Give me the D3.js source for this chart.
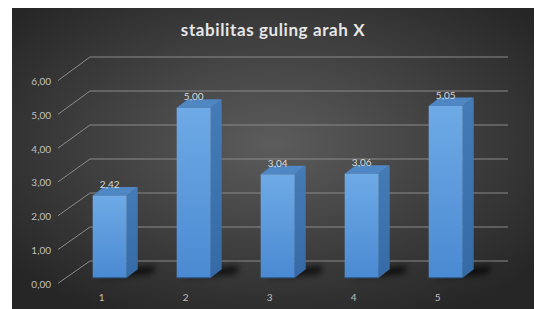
<!DOCTYPE html>
<html>
<head>
<meta charset="utf-8">
<script src="https://cdn.jsdelivr.net/npm/d3@7"></script>
<style>
  body { margin: 0; background: #ffffff; }
  svg { display: block; }
</style>
</head>
<body>
<svg class="chart-bar-3d"></svg>
<script>
var categories = ["1", "2", "3", "4", "5"];
var values = [2.42, 5.00, 3.04, 3.06, 5.05];
var tickValues = [0, 1, 2, 3, 4, 5, 6];
var tickLabels = ["0,00", "1,00", "2,00", "3,00", "4,00", "5,00", "6,00"];
var valueLabels = ["2,42", "5,00", "3,04", "3,06", "5,05"];
var title = "stabilitas guling arah X";

var width = 536;
var height = 309;
var depthX = 11;
var depthY = -8.5;

var svg = d3.select(".chart-bar-3d").attr("width", width).attr("height", height);
var defs = svg.append("defs");

var bg = defs.append("radialGradient").attr("id", "bg").attr("cx", "50%").attr("cy", "45%").attr("r", "65%");
bg.append("stop").attr("offset", "0%").attr("stop-color", "#5c5c5c");
bg.append("stop").attr("offset", "100%").attr("stop-color", "#262626");

var front = defs.append("linearGradient").attr("id", "front").attr("x1", 0).attr("y1", 0).attr("x2", 0).attr("y2", 1);
front.append("stop").attr("offset", "0%").attr("stop-color", "#6eaae6");
front.append("stop").attr("offset", "100%").attr("stop-color", "#4a8ad2");

var side = defs.append("linearGradient").attr("id", "side").attr("x1", 0).attr("y1", 0).attr("x2", 0).attr("y2", 1);
side.append("stop").attr("offset", "0%").attr("stop-color", "#457cb8");
side.append("stop").attr("offset", "100%").attr("stop-color", "#356aa6");

defs.append("filter").attr("id", "blur").attr("x", "-50%").attr("y", "-50%").attr("width", "200%").attr("height", "200%")
    .append("feGaussianBlur").attr("stdDeviation", 3);

svg.append("rect").attr("x", 12).attr("y", 8).attr("width", 522).attr("height", 301).attr("fill", "url(#bg)");

svg.append("text").attr("x", 273).attr("y", 36).attr("text-anchor", "middle")
    .style("font-family", "Lato, 'Open Sans', sans-serif").style("font-weight", "bold").style("font-size", "17px")
    .style("letter-spacing", "0.6px").attr("fill", "#e6e6e6").text(title);

var x = d3.scaleBand().domain(categories).range([67.7, 487.7]).paddingInner(0.595).paddingOuter(0.2975);
var yFront = d3.scaleLinear().domain([0, 6]).range([277.7, 73.7]);
var yBack = d3.scaleLinear().domain([0, 6]).range([261, 57]);
var yDiag = d3.scaleLinear().domain([0, 6]).range([283.3, 80.5]);

var grid = svg.append("g").attr("stroke", "#8a8a8a").attr("stroke-width", 1).attr("fill", "none");

grid.selectAll(".grid").data(tickValues).enter().append("line")
    .attr("x1", 90).attr("x2", 508)
    .attr("y1", function(d) { return yBack(d); }).attr("y2", function(d) { return yBack(d); });

grid.selectAll(".diag").data(tickValues).enter().append("line")
    .attr("x1", 58).attr("x2", 90)
    .attr("y1", function(d) { return yDiag(d); }).attr("y2", function(d) { return yBack(d); });

svg.selectAll(".tick").data(tickValues).enter().append("text")
    .attr("x", 51).attr("y", function(d) { return yDiag(d) + 4.5; }).attr("text-anchor", "end")
    .style("font-family", "Lato, sans-serif").style("font-size", "10px").attr("fill", "#c0c0c0")
    .text(function(d, i) { return tickLabels[i]; });

var data = categories.map(function(c, i) { return {category: c, value: values[i], label: valueLabels[i]}; });

// shadows on the floor
svg.selectAll(".shadow").data(data).enter().append("path")
    .attr("d", function(d) {
        var x0 = x(d.category) + 4;
        var x1 = x(d.category) + x.bandwidth() + depthX;
        var yb = yFront(0);
        return "M" + x0 + "," + (yb + 1) + "L" + (x1 + 14) + "," + (yb - 4) + "L" + (x1 + 18) + "," + (yb - 12) +
            "L" + (x1 - 2) + "," + (yb - 10) + "Z";
    })
    .attr("fill", "#000").attr("opacity", 0.75).attr("filter", "url(#blur)");

var bars = svg.selectAll(".bar").data(data).enter().append("g");

bars.append("path").attr("fill", "url(#side)").attr("d", function(d) {
    var x1 = x(d.category) + x.bandwidth();
    var y0 = yFront(0);
    var y1 = yFront(d.value);
    return "M" + x1 + "," + y0 + "L" + (x1 + depthX) + "," + (y0 + depthY) + "L" + (x1 + depthX) + "," + (y1 + depthY) +
        "L" + x1 + "," + y1 + "Z";
});

bars.append("path").attr("fill", "#4f86c4").attr("d", function(d) {
    var x0 = x(d.category);
    var x1 = x0 + x.bandwidth();
    var y1 = yFront(d.value);
    return "M" + x0 + "," + y1 + "L" + (x0 + depthX) + "," + (y1 + depthY) + "L" + (x1 + depthX) + "," + (y1 + depthY) +
        "L" + x1 + "," + y1 + "Z";
});

bars.append("rect").attr("fill", "url(#front)")
    .attr("x", function(d) { return x(d.category); })
    .attr("y", function(d) { return yFront(d.value); })
    .attr("width", x.bandwidth())
    .attr("height", function(d) { return yFront(0) - yFront(d.value); });

bars.append("line").attr("stroke", "#2f5f96").attr("stroke-width", 1.2)
    .attr("x1", function(d) { return x(d.category); })
    .attr("x2", function(d) { return x(d.category) + x.bandwidth(); })
    .attr("y1", yFront(0)).attr("y2", yFront(0));

svg.selectAll(".value").data(data).enter().append("text")
    .attr("x", function(d) { return x(d.category) + x.bandwidth() / 2; })
    .attr("y", function(d) { return yFront(d.value) + depthY + 1; })
    .attr("text-anchor", "middle")
    .style("font-family", "Lato, sans-serif").style("font-size", "10px").attr("fill", "#d9d9d9")
    .text(function(d) { return d.label; });

svg.selectAll(".category").data(data).enter().append("text")
    .attr("x", function(d) { return x(d.category) + x.bandwidth() / 2 - 8; })
    .attr("y", 300.5)
    .attr("text-anchor", "middle")
    .style("font-family", "Lato, sans-serif").style("font-size", "10px").attr("fill", "#c0c0c0")
    .text(function(d) { return d.category; });
</script>
</body>
</html>
